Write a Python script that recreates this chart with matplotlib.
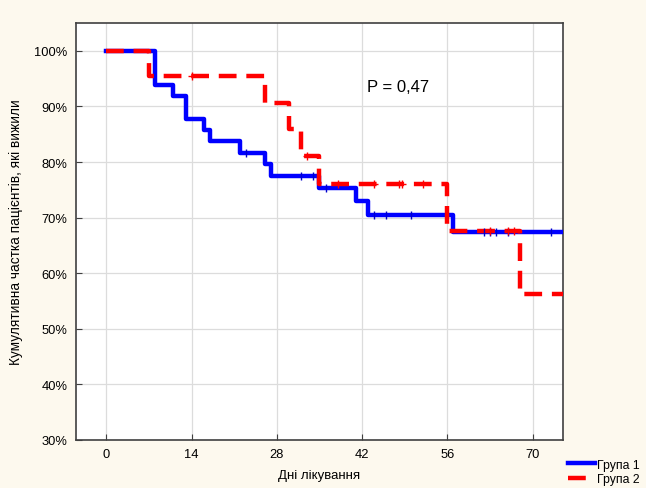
import matplotlib.pyplot as plt
import numpy as np

plt.rcParams['font.family'] = ['Liberation Sans', 'DejaVu Sans']

# Kaplan-Meier steps (days, % survived)
g1_times = [0, 8, 11, 13, 16, 17, 22, 26, 27, 35, 41, 43, 57, 75]
g1_surv = [100, 93.9, 91.8, 87.8, 85.7, 83.7, 81.6, 79.6, 77.5, 75.3, 72.9, 70.4, 67.4, 67.4]
g1_cens = [23, 32, 34, 36, 44, 46, 50, 62, 63, 64, 66, 73]

g2_times = [0, 7, 26, 30, 32, 35, 56, 68, 75]
g2_surv = [100, 95.5, 90.7, 85.9, 81.1, 76.0, 67.6, 56.3, 56.3]
g2_cens = [14, 33, 38, 44, 48, 48.5, 52, 63, 66, 67]

xticks = [0, 14, 28, 42, 56, 70]
yticks = [30, 40, 50, 60, 70, 80, 90, 100]
p_text = "P = 0,47"


def surv_at(times, surv, t):
    # value of the step function (post) at time t
    idx = np.searchsorted(times, t, side='right') - 1
    return np.array(surv)[idx]


fig = plt.figure(figsize=(6.46, 4.89), dpi=100, facecolor='#fdf9ee')
ax = fig.add_axes([0.1176, 0.0982, 0.7539, 0.8527])
ax.set_facecolor('white')

ax.step(g1_times, g1_surv, where='post', color='#0000ff', lw=3.2, label='Група 1', zorder=3)
ax.step(g2_times, g2_surv, where='post', color='#ff0000', lw=3.2, dashes=(4, 2.2),
        label='Група 2', zorder=4)

ax.plot(g1_cens, surv_at(g1_times, g1_surv, g1_cens), ls='none', marker='|',
        ms=6, mew=1, color='#0000cc', zorder=5)
ax.plot(g2_cens, surv_at(g2_times, g2_surv, g2_cens), ls='none', marker='+',
        ms=6, mew=1, color='#ff0000', zorder=5)

ax.text(42.8, 92.8, p_text, fontsize=12, va='baseline', ha='left')

ax.set_xlim(-5, 75)
ax.set_ylim(30, 105)
ax.set_xticks(xticks)
ax.set_yticks(yticks)
ax.set_yticklabels([f"{v}%" for v in yticks])
ax.tick_params(direction='in', length=4, labelsize=9.3, color='#404040')
ax.tick_params(axis='x', pad=6)
ax.tick_params(axis='y', pad=6)
ax.grid(True, color='#dcdcdc', lw=0.9)
ax.set_axisbelow(True)
for s in ax.spines.values():
    s.set_color('#404040')
    s.set_linewidth(1.2)

ax.set_xlabel("Дні лікування", fontsize=9.5, labelpad=6)
ax.set_ylabel("Кумулятивна частка пацієнтів, які вижили", fontsize=9.8, labelpad=8)

fig.legend(loc='lower right', bbox_to_anchor=(0.997, -0.004), frameon=False,
           fontsize=8.8, handlelength=2.2, handletextpad=0.15, labelspacing=0.2,
           borderaxespad=0)

fig.savefig("out.png", dpi=100, facecolor=fig.get_facecolor())
